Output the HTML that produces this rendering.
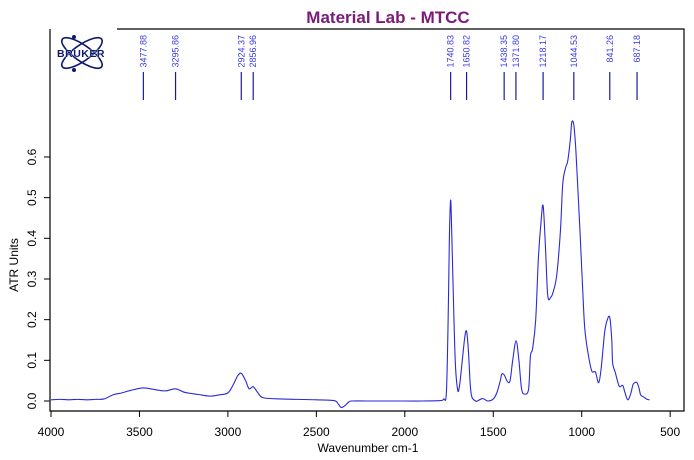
<!DOCTYPE html>
<html><head><meta charset="utf-8"><style>
body{margin:0;background:#fff}
svg{display:block;font-family:"Liberation Sans",Arial,sans-serif}
</style></head><body>
<svg id="chart" width="694" height="460">
<text x="388" y="23" text-anchor="middle" font-size="17" font-weight="bold" fill="#7a1a7a">Material Lab - MTCC</text>
<g>
<ellipse cx="82" cy="53" rx="24" ry="8" transform="rotate(35 82 53)" fill="none" stroke="#0d1a6e" stroke-width="1.6"/>
<ellipse cx="82" cy="53" rx="24" ry="8" transform="rotate(-35 82 53)" fill="none" stroke="#0d1a6e" stroke-width="1.6"/>
<circle cx="74" cy="37" r="2" fill="#0d1a6e"/><circle cx="74" cy="70" r="2" fill="#0d1a6e"/>
<text x="81" y="57" text-anchor="middle" font-size="10.5" font-weight="bold" fill="#0d1a6e" stroke="#fff" stroke-width="0.6" paint-order="stroke" letter-spacing="0.5">BRUKER</text>
</g>
<path d="M117 29H684V411H50V29" fill="none" stroke="#000" stroke-width="1.2"/>
<g id="xticks"></g>
<g id="yticks"></g>
<g id="peaks"></g>
<path id="spectrum" fill="none" stroke="#2a2ad8" stroke-width="1.1"/>
<text x="368" y="452" text-anchor="middle" font-size="12">Wavenumber cm-1</text>
<text x="0" y="0" transform="translate(18 265) rotate(-90)" text-anchor="middle" font-size="12">ATR Units</text>
</svg>
<script>
const xTickValues=[4000,3500,3000,2500,2000,1500,1000,500];
const yTickValues=[0.0,0.1,0.2,0.3,0.4,0.5,0.6];
const peakLabels=[3477.88,3295.86,2924.37,2856.96,1740.83,1650.82,1438.35,1371.80,1218.17,1044.53,841.26,687.18];
const wavenumbers=[4000,3950,3900,3850,3800,3750,3700,3650,3600,3550,3478,3400,3350,3296,3250,3200,3150,3100,3050,3000,2970,2945,2924,2900,2880,2857,2830,2800,2700,2600,2500,2400,2375,2360,2340,2320,2300,2200,2000,1900,1800,1780,1765,1755,1748,1741,1735,1728,1715,1701,1690,1675,1660,1650,1640,1630,1621,1600,1590,1560,1530,1500,1480,1460,1452,1438,1420,1405,1390,1371,1355,1340,1322,1300,1290,1277,1260,1245,1230,1218,1205,1192,1175,1160,1141,1120,1107,1090,1079,1065,1056,1045,1035,1028,1010,995,983,965,944,930,921,904,890,870,855,841,830,825,810,795,785,768,755,740,725,710,700,687,675,667,650,630,616];
const absorbance=[0.003,0.004,0.003,0.004,0.003,0.004,0.005,0.015,0.02,0.026,0.032,0.027,0.025,0.03,0.022,0.018,0.015,0.012,0.015,0.02,0.04,0.062,0.068,0.05,0.03,0.035,0.02,0.008,0.005,0.004,0.003,0.001,-0.008,-0.016,-0.012,-0.004,0.0,0.0,0.0,0.0,0.001,0.005,0.02,0.2,0.4,0.494,0.42,0.3,0.1,0.027,0.04,0.1,0.16,0.17,0.12,0.04,0.01,0.0,0.0,0.006,0.0,0.005,0.02,0.05,0.066,0.064,0.048,0.05,0.1,0.148,0.1,0.03,0.017,0.03,0.11,0.13,0.2,0.35,0.44,0.48,0.38,0.26,0.255,0.27,0.31,0.42,0.535,0.575,0.59,0.64,0.685,0.68,0.63,0.575,0.42,0.28,0.18,0.12,0.075,0.072,0.07,0.045,0.08,0.17,0.2,0.205,0.15,0.093,0.07,0.045,0.035,0.038,0.02,0.003,0.015,0.04,0.045,0.045,0.03,0.015,0.01,0.004,0.003];
const NS='http://www.w3.org/2000/svg';
const X=w=>51+(4000-w)*0.1769;
const Y=v=>401-v*406.7;
function mk(tag,attrs,parent){const e=document.createElementNS(NS,tag);for(const k in attrs)e.setAttribute(k,attrs[k]);parent.appendChild(e);return e;}
const xg=document.getElementById('xticks');
xTickValues.forEach(t=>{
 const l=mk('line',{x1:X(t),x2:X(t),y1:411,y2:417,stroke:'#000'},xg);
 
 
 const tx=mk('text',{x:X(t),y:436,'text-anchor':'middle','font-size':12},xg);
 tx.textContent=t;
 
 
});
const yg=document.getElementById('yticks');
yTickValues.forEach(t=>{
 const l=mk('line',{x1:44,x2:50,y1:Y(t),y2:Y(t),stroke:'#000'},yg);
 
 
 const tx=mk('text',{transform:`translate(${36} ${Y(t)}) rotate(-90)`,'text-anchor':'middle','font-size':12},yg);
 tx.textContent=t.toFixed(1);
 
 
});
const pg=document.getElementById('peaks');
peakLabels.forEach(p=>{
 const x=X(p);
 const l=mk('line',{x1:x,x2:x,y1:72,y2:100,stroke:'#1a1aa0','stroke-width':1.2},pg);
 
 
 const tx=mk('text',{transform:`translate(${x+3} 35) rotate(-90)`,'text-anchor':'end','font-size':9,fill:'#3a3ae0'},pg);
 tx.textContent=p.toFixed(2);
 
 
});
const pts=wavenumbers.map((w,i)=>[X(w),Y(absorbance[i])]);
let d=`M${pts[0][0]},${pts[0][1]}`;
for(let i=0;i<pts.length-1;i++){
 const p0=pts[Math.max(i-1,0)],p1=pts[i],p2=pts[i+1],p3=pts[Math.min(i+2,pts.length-1)];
 const c1=[p1[0]+(p2[0]-p0[0])/6,p1[1]+(p2[1]-p0[1])/6];
 const c2=[p2[0]-(p3[0]-p1[0])/6,p2[1]-(p3[1]-p1[1])/6];
 d+=`C${c1[0]},${c1[1]} ${c2[0]},${c2[1]} ${p2[0]},${p2[1]}`;
}
document.getElementById('spectrum').setAttribute('d',d);
</script>
</body></html>
